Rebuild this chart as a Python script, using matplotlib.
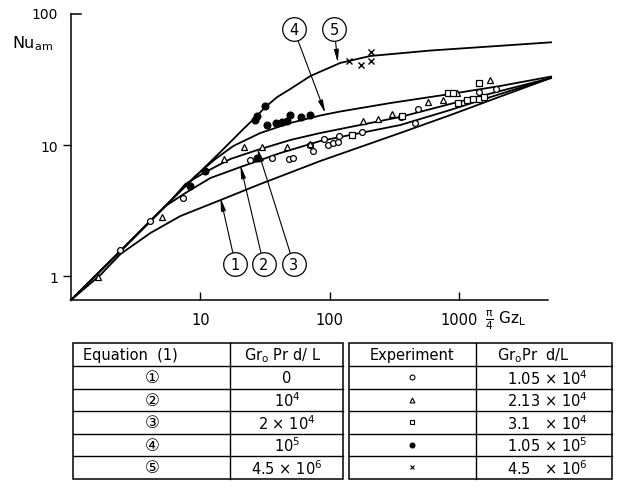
import matplotlib
matplotlib.use('Agg')
import matplotlib.pyplot as plt
from matplotlib.lines import Line2D

plt.rcParams['font.family'] = ['DejaVu Sans', 'Noto Sans CJK JP']
plt.rcParams['mathtext.default'] = 'regular'

# theoretical curves, equation (1), pi/4 Gz_L vs Nu_am
gz1 = [1.0, 1.69, 2.41, 4.11, 7.01, 14.3, 29.1, 84.5, 350, 852, 2070, 5130]
nu1 = [0.656, 1.02, 1.47, 2.13, 2.87, 3.80, 5.04, 7.55, 12.35, 16.9, 23.4, 32.5]

gz2 = [1.0, 2.41, 4.11, 5.37, 7.66, 11.95, 20.4, 41.5, 84.5, 120.5, 350, 852, 2070, 5130]
nu2 = [0.656, 1.55, 2.64, 3.42, 4.30, 5.60, 6.79, 8.69, 10.73, 11.51, 14.2, 18.5, 24.5, 32.5]

gz3 = [1.0, 2.41, 5.87, 7.66, 10.93, 17.05, 27.55, 49.5, 84.5, 120.5, 350, 852, 2070, 5130]
nu3 = [0.656, 1.55, 3.74, 5.04, 6.22, 7.82, 9.16, 10.92, 12.35, 13.25, 16.36, 20.56, 25.8, 32.5]

gz4 = [1.0, 2.41, 5.87, 9.15, 13.06, 17.98, 29.06, 49.5, 84.5, 120.5, 293, 852, 2070, 5130]
nu4 = [0.656, 1.55, 3.74, 5.80, 7.82, 9.83, 12.35, 14.72, 16.8, 18.02, 20.9, 24.5, 28.2, 33.3]

gz5 = [1.0, 2.41, 5.87, 14.27, 22.26, 26.6, 31.76, 39.3, 49.5, 70.7, 120.5, 205.5, 597,
       1736, 5130]
nu5 = [0.656, 1.55, 3.74, 8.84, 13.72, 16.21, 19.5, 23.25, 26.76, 33.6, 42.3, 47.8, 52.6,
       56.5, 60.8]

# experiments
circ_gz = [2.41, 4.11, 7.35, 24.3, 35.8, 48.7, 52.3, 70.7, 74.6, 90.7, 97.4, 106.4,
           115.7, 118.4, 149.2, 177.3, 356.5, 457, 480, 1427, 1920]
circ_nu = [1.59, 2.64, 3.94, 7.64, 7.91, 7.82, 7.96, 10.05, 8.95, 11.11, 10.05, 10.36,
           10.49, 11.78, 11.92, 12.5, 16.27, 14.72, 18.83, 25.5, 26.76]

tri_gz = [1.62, 5.06, 15.13, 21.6, 29.9, 46.7, 70.7, 179.8, 235.6, 302, 579, 752, 957, 1736]
tri_nu = [0.983, 2.81, 7.82, 9.6, 9.6, 9.6, 10.18, 15.25, 15.79, 17.24, 21.18, 22.17, 24.9, 31.6]

sq_gz = [148.4, 361, 827, 894, 988, 1147, 1289, 1435, 1560, 1435]
sq_nu = [11.92, 16.56, 24.8, 24.8, 20.9, 22.25, 22.45, 22.45, 23.05, 29.7]

dot_gz = [8.37, 10.93, 26.6, 27.55, 31.76, 32.6, 38.6, 42.8, 47.0, 48.9, 59.7, 69.8, 27.55]
dot_nu = [4.85, 6.35, 15.52, 16.51, 19.95, 14.21, 14.72, 15.06, 15.38, 16.94, 16.27, 16.94, 7.96]

cross_gz = [139.7, 174.1, 208.0, 208.0]
cross_nu = [44.0, 41.0, 51.0, 43.4]

# curve labels: label centre and arrow tip (on the curve)
label_names = ['1', '2', '3', '4', '5']
label_pos = [(18.64, 1.235), (30.8, 1.235), (52.6, 1.235), (52.6, 76.8), (108.3, 76.8)]
label_tip = [(14.3, 3.95), (20.4, 7.0), (27.55, 9.4), (92.3, 17.5), (115.3, 42.5)]

# tables
eq_rows = ['\u2460', '\u2461', '\u2462', '\u2463', '\u2464']
eq_vals = ['0', '10$^4$', '2 $\\times$ 10$^4$', '10$^5$', '4.5 $\\times$ 10$^6$']
exp_vals = ['1.05 $\\times$ 10$^4$', '2.13 $\\times$ 10$^4$', '3.1   $\\times$ 10$^4$',
            '1.05 $\\times$ 10$^5$', '4.5   $\\times$ 10$^6$']
exp_marks = [('o', 'white'), ('^', 'white'), ('s', 'white'), ('o', 'black'), ('x', 'black')]

W, H = 633, 489
fig = plt.figure(figsize=(W / 100, H / 100), dpi=100)
ax = fig.add_axes([71 / W, 1 - 301 / H, (548 - 71) / W, (301 - 15) / H])
ax.set_xscale('log')
ax.set_yscale('log')
ax.set_xlim(1.0, 4860)
ax.set_ylim(0.656, 100)

for gz, nu in [(gz1, nu1), (gz2, nu2), (gz3, nu3), (gz4, nu4), (gz5, nu5)]:
    ax.plot(gz, nu, color='black', lw=1.3, clip_on=False, solid_joinstyle='round')

ax.plot(circ_gz, circ_nu, 'o', ms=4.2, mfc='white', mec='black', mew=0.9)
ax.plot(tri_gz, tri_nu, '^', ms=4.6, mfc='white', mec='black', mew=0.9)
ax.plot(sq_gz, sq_nu, 's', ms=4.2, mfc='white', mec='black', mew=0.9)
ax.plot(dot_gz, dot_nu, 'o', ms=4.8, color='black')
ax.plot(cross_gz, cross_nu, 'x', ms=4.2, color='black', mew=1.0)

for name, pos, tip in zip(label_names, label_pos, label_tip):
    ax.annotate('', xy=tip, xytext=pos,
                arrowprops=dict(arrowstyle='-|>,head_length=0.75,head_width=0.14',
                                lw=0.8, color='black', shrinkA=8.5, shrinkB=0))
    ax.plot(*pos, 'o', ms=17, mfc='white', mec='black', mew=0.9, clip_on=False, zorder=5)
    ax.text(*pos, name, ha='center', va='center', fontsize=10.5, zorder=6)

for side in ['top', 'right']:
    ax.spines[side].set_visible(False)
for side in ['left', 'bottom']:
    ax.spines[side].set_linewidth(1.1)

ax.set_xticks([10, 100, 1000])
ax.set_xticklabels(['10', '100', '1000'])
ax.set_yticks([1, 10])
ax.set_yticklabels(['1', '10'])
ax.minorticks_off()
ax.tick_params(axis='x', direction='in', length=6, width=1.0, pad=9, labelsize=10.5)
ax.tick_params(axis='y', direction='out', length=6, width=1.0, pad=3, labelsize=10)
# top of the y axis: short stub and its label
ax.plot([0, 0.022], [100, 100], color='black', lw=1.1, transform=ax.get_yaxis_transform(),
        clip_on=False)
ax.text(-0.028, 100, '100', transform=ax.get_yaxis_transform(), ha='right', va='center',
        fontsize=10)

fig.text(12 / W, 1 - 44 / H, 'Nu$_{am}$', ha='left', va='center', fontsize=11.5)
fig.text(485 / W, 1 - 320 / H, r'$\frac{\pi}{4}$ Gz$_L$', ha='left', va='center', fontsize=11)

# tables drawn in pixel coordinates
tab = fig.add_axes([0, 0, 1, 1])
tab.set_xlim(0, W)
tab.set_ylim(H, 0)
tab.axis('off')

top, head, row_h = 344, 367, 22.5
bottom = head + 5 * row_h


def draw_table(x0, xd, x1):
    tab.add_patch(plt.Rectangle((x0, top), x1 - x0, bottom - top, fill=False,
                                lw=1.1, ec='black'))
    tab.add_line(Line2D([xd, xd], [top, bottom], lw=1.0, color='black'))
    for i in range(5):
        y = head + i * row_h
        tab.add_line(Line2D([x0, x1], [y, y], lw=1.0, color='black'))


draw_table(73, 230, 343)
draw_table(349, 476, 612)

fs = 10.5
hy = (top + head) / 2
tab.text(83, hy, 'Equation  (1)', ha='left', va='center', fontsize=fs)
tab.text(244, hy, 'Gr$_o$ Pr d/ L', ha='left', va='center', fontsize=fs)
tab.text(412, hy, 'Experiment', ha='center', va='center', fontsize=fs)
tab.text(497, hy, 'Gr$_o$Pr  d/L', ha='left', va='center', fontsize=fs)

for i in range(5):
    yc = head + (i + 0.5) * row_h
    tab.text(152, yc, eq_rows[i], ha='center', va='center', fontsize=12)
    tab.text(287, yc, eq_vals[i], ha='center', va='center', fontsize=fs)
    m, fc = exp_marks[i]
    tab.plot(412, yc, m, ms=3.5, mfc=fc, mec='black', mew=0.8)
    tab.text(547, yc, exp_vals[i], ha='center', va='center', fontsize=fs)

fig.savefig('out.png', dpi=100)
